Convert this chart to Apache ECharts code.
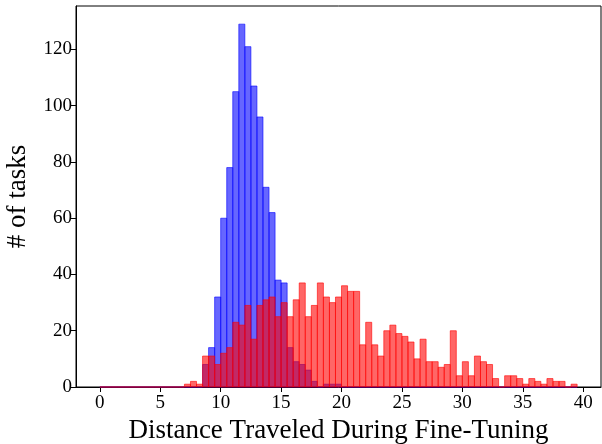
<!DOCTYPE html>
<html>
<head>
<meta charset="utf-8">
<script src="https://cdn.jsdelivr.net/npm/echarts@6/dist/echarts.min.js"></script>
<style>
html,body{margin:0;padding:0;background:#fff;}
#chart{width:602px;height:444px;}
</style>
</head>
<body>
<div id="chart"></div>
<script>
// Histogram bins: 0.5-wide bins starting at 0
const binWidth = 0.5;
const xTicks = [0, 5, 10, 15, 20, 25, 30, 35, 40];
const yTicks = [0, 20, 40, 60, 80, 100, 120];

// Blue histogram counts (one per bin, bin k starts at k*0.5)
const blueCounts = [
  0,0,0,0,0,0,0,0,0,0,
  0,0,0,0,0,0,0,8,14,32,
  60,78,105,129,121,107,96,71,62,38,
  37,14,9,8,6,2,0,1,1,1,
  0,0,0,0,0,0,0,0,0,0,
  0,0,0,0,0,0,0,0,0,0,
  0,0,0,0,0,0,0,0,0,0,
  0,0,0,0,0,0,0,0,0
];

// Red histogram counts
const redCounts = [
  0,0,0,0,0,0,0,0,0,0,
  0,0,0,0,1,2,1,11,11,8,
  12,14,23,22,29,17,29,31,32,25,
  30,25,31,37,25,29,37,32,30,32,
  36,34,34,15,23,15,11,20,22,19,
  18,16,10,17,9,9,7,8,20,4,
  9,4,11,9,8,3,0,4,4,3,
  1,3,2,1,3,2,2,0,1
];

const binStarts = blueCounts.map((_, i) => i * binWidth);
const xLast = binStarts[binStarts.length - 1] + binWidth;
const xPad = 0.05 * xLast;
const yPad = 0.05 * Math.max(...blueCounts, ...redCounts);

function histSeries(name, counts, fill, stroke, z) {
  return {
    name: name,
    type: 'custom',
    z: z,
    data: counts.map((c, i) => [binStarts[i], c]),
    renderItem: function (params, api) {
      const x0 = api.value(0), h = api.value(1);
      const p0 = api.coord([x0, h]);
      const p1 = api.coord([x0 + binWidth, 0]);
      return {
        type: 'rect',
        shape: { x: p0[0], y: p0[1], width: p1[0] - p0[0], height: p1[1] - p0[1] },
        style: { fill: fill, stroke: stroke, lineWidth: 1 }
      };
    }
  };
}

const font = 'Liberation Serif';
const chart = echarts.init(document.getElementById('chart'), null, { renderer: 'canvas' });
chart.setOption({
  animation: false,
  backgroundColor: '#fff',
  grid: { left: 76, right: 1, top: 6, bottom: 57, outerBoundsMode: 'none', containLabel: false, show: true, borderColor: '#000', borderWidth: 1, backgroundColor: 'transparent' },
  xAxis: {
    type: 'value',
    min: -xPad,
    max: xLast + xPad,
    name: 'Distance Traveled During Fine-Tuning',
    nameLocation: 'middle',
    nameGap: 30,
    nameTextStyle: { fontFamily: font, fontSize: 27, color: '#000' },
    splitLine: { show: false },
    axisLine: { show: true, onZero: false, lineStyle: { color: '#000', width: 1 } },
    axisTick: { show: true, inside: false, length: 5, customValues: xTicks, lineStyle: { color: '#000' } },
    axisLabel: { customValues: xTicks, fontFamily: font, fontSize: 19, color: '#000', margin: 7 }
  },
  yAxis: {
    type: 'value',
    min: 0,
    max: Math.max(...blueCounts) + yPad,
    name: '# of tasks',
    nameLocation: 'middle',
    nameGap: 45,
    nameTextStyle: { fontFamily: font, fontSize: 27, color: '#000' },
    splitLine: { show: false },
    axisLine: { show: true, onZero: false, lineStyle: { color: '#000', width: 1 } },
    axisTick: { show: true, inside: false, length: 5, customValues: yTicks, lineStyle: { color: '#000' } },
    axisLabel: { customValues: yTicks, fontFamily: font, fontSize: 19, color: '#000', margin: 4 }
  },
  series: [
    histSeries('blue', blueCounts, 'rgba(0,0,255,0.6)', 'rgba(0,0,255,0.6)', 2),
    histSeries('red', redCounts, 'rgba(255,0,0,0.6)', 'rgba(255,0,0,0.6)', 3)
  ]
});
</script>
</body>
</html>
